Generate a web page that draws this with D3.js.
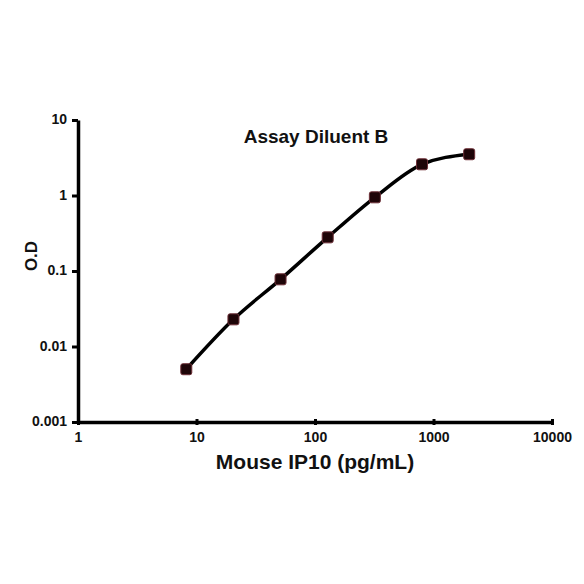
<!DOCTYPE html>
<html>
<head>
<meta charset="utf-8">
<script src="https://cdn.jsdelivr.net/npm/d3@7"></script>
<style>
	body { margin: 0; background: #fff; }
	.c-svg { width: 584px; height: 584px; }
	text { font-family: "Liberation Sans", Arial, sans-serif; font-weight: bold; fill: #111; }
</style>
</head>
<body>
<div class="c-svg"></div>
<script>
//DATA
//-------------------------------------------------------------------------
const concentration = [8.2, 20.5, 51.2, 128, 320, 800, 2000];
const od = [0.005, 0.0229, 0.0776, 0.279, 0.946, 2.59, 3.52];
const xTicks = [1, 10, 100, 1000, 10000];
const yTicks = [0.001, 0.01, 0.1, 1, 10];
const title = "Assay Diluent B";
const xLabel = "Mouse IP10 (pg/mL)";
const yLabel = "O.D";

//opts for svg
const opts = {
	width: 584,
	height: 584,
	margin: { top: 120, right: 32, bottom: 162, left: 78 }
};

const innerChart = {
	width: opts.width - opts.margin.left - opts.margin.right,
	height: opts.height - opts.margin.top - opts.margin.bottom
};

const svg = d3.select(".c-svg")
	.append("svg")
	.attr("width", opts.width)
	.attr("height", opts.height);

const g = svg.append("g")
	.attr("transform", `translate(${opts.margin.left} ${opts.margin.top})`);

//AXIS
//-------------------------------------------------------------------------
const x = d3.scaleLog()
	.domain([1, 10000])
	.range([0, innerChart.width]);

const y = d3.scaleLog()
	.domain([0.001, 10])
	.range([innerChart.height, 0]);

const xAxis = d3.axisBottom(x)
	.tickValues(xTicks)
	.tickFormat(d3.format("d"))
	.tickSizeInner(-4)
	.tickSizeOuter(0)
	.tickPadding(10);

const yAxis = d3.axisLeft(y)
	.tickValues(yTicks)
	.tickFormat(d => String(d))
	.tickSizeInner(6)
	.tickSizeOuter(0)
	.tickPadding(5);

const gx = g.append("g")
	.attr("class", "axis x_axis")
	.attr("transform", `translate(0 ${innerChart.height})`)
	.call(xAxis);

const gy = g.append("g")
	.attr("class", "axis y_axis")
	.call(yAxis);

[gx, gy].forEach(a => {
	a.select(".domain").attr("stroke", "#000").attr("stroke-width", 3.5);
	a.selectAll(".tick line").attr("stroke", "#000").attr("stroke-width", 3);
	a.selectAll("text")
		.style("font-size", "14px")
		.style("font-family", "'Liberation Sans', Arial, sans-serif")
		.style("font-weight", "bold")
		.attr("fill", "#111");
});
gx.selectAll(".tick line").attr("y2", 3).attr("y1", -3);
gy.selectAll("text").attr("dy", "0.25em");

//LABELS
//-------------------------------------------------------------------------
svg.append("text")
	.attr("x", 316)
	.attr("y", 143)
	.attr("text-anchor", "middle")
	.style("font-size", "19px")
	.text(title);

svg.append("text")
	.attr("x", 315)
	.attr("y", 469)
	.attr("text-anchor", "middle")
	.style("font-size", "21px")
	.text(xLabel);

svg.append("text")
	.attr("transform", "translate(37 256) rotate(-90)")
	.attr("text-anchor", "middle")
	.style("font-size", "17px")
	.text(yLabel);

//CURVE
//-------------------------------------------------------------------------
const data = concentration.map((c, i) => ({ c: c, od: od[i] }));

const line = d3.line()
	.x(d => x(d.c))
	.y(d => y(d.od))
	.curve(d3.curveMonotoneX);

g.append("path")
	.datum(data)
	.attr("d", line)
	.attr("fill", "none")
	.attr("stroke", "#000")
	.attr("stroke-width", 3.5);

const ms = 11;
g.selectAll(".data-point")
	.data(data)
	.join("rect")
	.classed("data-point", true)
	.attr("x", d => x(d.c) - ms / 2)
	.attr("y", d => y(d.od) - ms / 2)
	.attr("width", ms)
	.attr("height", ms)
	.attr("rx", 2)
	.attr("fill", "#1e0508")
	.attr("stroke", "#6e3038")
	.attr("stroke-width", 1);
</script>
</body>
</html>
